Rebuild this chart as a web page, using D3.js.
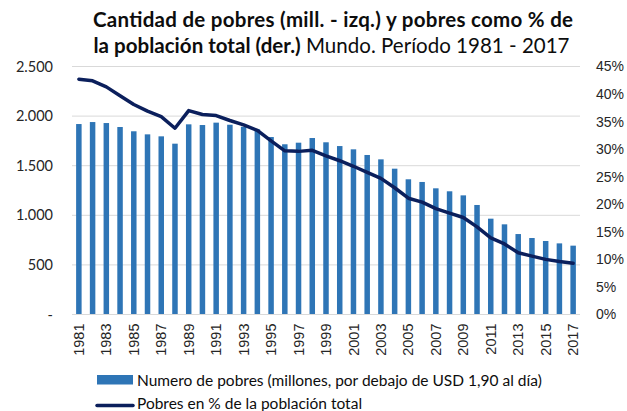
<!DOCTYPE html>
<html><head><meta charset="utf-8">
<script src="https://cdn.jsdelivr.net/npm/d3@7"></script>
<style>body{margin:0;background:#fff}svg{display:block;font-family:Lato,"Open Sans",sans-serif}</style>
</head><body>
<svg id="c" width="627" height="411"></svg>
<script>
const years = d3.range(1981, 2018).map(String);
const pobres = [1920,1940,1930,1890,1847,1816,1796,1722,1917,1910,1934,1913,1893,1867,1789,1716,1732,1779,1736,1698,1665,1608,1564,1470,1363,1336,1272,1242,1201,1104,966,909,811,771,741,717,694];
const pct = [42.7,42.4,41.3,39.7,38.1,36.9,35.9,33.8,37.0,36.3,36.1,35.2,34.4,33.4,31.5,29.7,29.6,29.8,28.8,27.9,26.9,25.8,24.7,23.0,21.1,20.4,19.2,18.4,17.6,15.9,13.9,12.8,11.2,10.6,10.0,9.6,9.3];
const leftTicks = [0,500,1000,1500,2000,2500];
const leftLabels = ["-","500","1.000","1.500","2.000","2.500"];
const rightTicks = [0,5,10,15,20,25,30,35,40,45];
const titleBold1 = "Cantidad de pobres (mill. - izq.) y pobres como % de";
const titleBold2 = "la población total (der.)";
const titleNormal2 = " Mundo. Período 1981 - 2017";
const legendBars = "Numero de pobres (millones, por debajo de USD 1,90 al día)";
const legendLine = "Pobres en % de la población total";

const svg = d3.select("#c");
const L = 72, R = 580, T = 66.5, B = 314.5;
const x = d3.scaleBand().domain(years).range([L, R]).paddingInner(0.6).paddingOuter(0.3);
const xc = d => x(d) + x.bandwidth()/2;
const yL = d3.scaleLinear().domain([0,2500]).range([B, T]);
const yR = d3.scaleLinear().domain([0,45]).range([B, T]);

// gridlines
svg.append("g").selectAll("line").data(leftTicks.slice(1)).join("line")
  .attr("x1", L).attr("x2", R).attr("y1", d => yL(d)).attr("y2", d => yL(d))
  .attr("stroke", "#d9d9d9").attr("stroke-width", 1);

// bars
svg.append("g").selectAll("rect").data(years).join("rect")
  .attr("x", d => x(d)).attr("width", x.bandwidth())
  .attr("y", (d,i) => yL(pobres[i])).attr("height", (d,i) => B - yL(pobres[i]))
  .attr("fill", "#2e75b6");

// baseline
svg.append("line").attr("x1", L).attr("x2", R).attr("y1", B).attr("y2", B)
  .attr("stroke", "#d9d9d9").attr("stroke-width", 1);

// line
const line = d3.line().x((d,i) => xc(years[i])).y(d => yR(d));
svg.append("path").datum(pct).attr("d", line).attr("fill", "none")
  .attr("stroke", "#0b1f5c").attr("stroke-width", 3.5).attr("stroke-linejoin", "round").attr("stroke-linecap", "round");

// left axis
const axL = d3.axisLeft(yL).tickValues(leftTicks).tickFormat((d,i) => leftLabels[i]).tickSize(0).tickPadding(0);
const gL = svg.append("g").attr("transform", `translate(53,0)`).call(axL);
gL.select(".domain").remove();
gL.selectAll("text").attr("font-size", 14.5).attr("fill", "#262626").attr("font-family", "Lato");

// right axis
const axR = d3.axisRight(yR).tickValues(rightTicks).tickFormat(d => d + "%").tickSize(0).tickPadding(0);
const gR = svg.append("g").attr("transform", `translate(596,0)`).call(axR);
gR.select(".domain").remove();
gR.selectAll("text").attr("font-size", 14).attr("fill", "#262626");

// x axis
const axX = d3.axisBottom(x).tickValues(years.filter((d,i) => i % 2 === 0)).tickSize(0).tickPadding(0);
const gX = svg.append("g").attr("transform", `translate(0,${B})`).call(axX);
gX.select(".domain").remove();
gX.selectAll("text").attr("font-size", 14.5).attr("fill", "#262626")
  .attr("transform", "rotate(-90)").attr("text-anchor", "end").attr("dy", "0.35em").attr("x", -9).attr("y", 0);

// title
svg.append("text").attr("x", 333).attr("y", 27).attr("text-anchor", "middle")
  .attr("font-size", 20.5).attr("font-weight", "bold").attr("fill", "#0d0d0d")
  .attr("textLength", 480).attr("lengthAdjust", "spacing").text(titleBold1);
const t2 = svg.append("text").attr("x", 331.5).attr("y", 53).attr("text-anchor", "middle")
  .attr("font-size", 20.5).attr("fill", "#0d0d0d").attr("textLength", 476).attr("lengthAdjust", "spacing");
t2.append("tspan").attr("font-weight", "bold").text(titleBold2);
t2.append("tspan").text(titleNormal2);

// legend
svg.append("rect").attr("x", 97).attr("y", 375).attr("width", 36).attr("height", 9.5).attr("fill", "#2e75b6");
svg.append("text").attr("x", 137).attr("y", 386).attr("font-size", 15.5).attr("fill", "#0d0d0d").text(legendBars);
svg.append("line").attr("x1", 97).attr("x2", 133).attr("y1", 405.5).attr("y2", 405.5)
  .attr("stroke", "#0b1f5c").attr("stroke-width", 3.5).attr("stroke-linecap", "round");
svg.append("text").attr("x", 137).attr("y", 409).attr("font-size", 15.5).attr("fill", "#0d0d0d").text(legendLine);
</script>
</body></html>
